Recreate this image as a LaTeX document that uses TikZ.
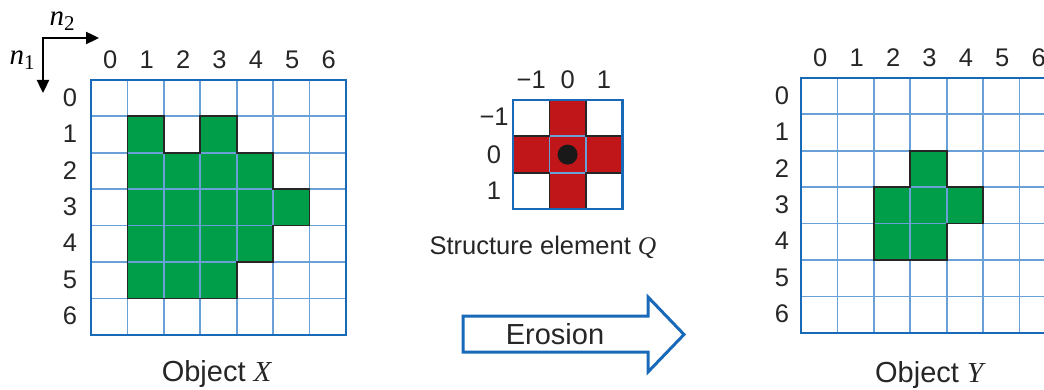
\documentclass[tikz,border=0pt]{standalone}
\usepackage{fontspec}
\setmainfont{Liberation Sans}
\newfontfamily\seriffont{Liberation Serif}
\usetikzlibrary{arrows.meta}
\definecolor{gridblue}{RGB}{105,160,215}
\definecolor{borderblue}{RGB}{25,105,185}
\definecolor{objgreen}{RGB}{0,158,73}
\definecolor{sered}{RGB}{192,22,26}
\tikzset{
  num/.style={font=\fontsize{25.5}{30}\selectfont, inner sep=0pt, text=black!85},
  captext/.style={font=\fontsize{29}{34}\selectfont, inner sep=0pt, text=black!85},
  inner grid/.style={draw=gridblue, line width=1.8pt},
  outer grid/.style={draw=borderblue, line width=2.6pt},
  outline/.style={draw=black!85, line width=1.8pt, line join=miter},
  axis/.style={line width=2.4pt, -{Triangle[length=13pt,width=12pt]}},
  bigarrow/.style={draw=borderblue, line width=3pt, line join=miter},
}
\newcommand{\itX}[1]{{\seriffont\itshape #1}}
\begin{document}
\begin{tikzpicture}[x=1pt,y=-1pt]
\useasboundingbox (0,0) rectangle (1044,390);
\begin{scope}
\clip (0,0) rectangle (1044,390);

% ---------- axes ----------
\coordinate (o) at (43,38);
\coordinate (ax2) at (99,38);
\coordinate (ax1) at (43,93);
\draw[axis] (o) -- (ax2);
\draw[axis] (o) -- (ax1);
\draw[line width=2.4pt] (41.8,38) -- (o);
\node[font=\fontsize{29}{34}\selectfont, inner sep=0pt] (n2) at (62,21) {\itX{n}\raisebox{-0.35ex}{\fontsize{21}{24}\selectfont\seriffont 2}};
\node[font=\fontsize{29}{34}\selectfont, inner sep=0pt] (n1) at (22,60) {\itX{n}\raisebox{-0.35ex}{\fontsize{21}{24}\selectfont\seriffont 1}};

% ---------- object X ----------
\begin{scope}[shift={(91,80)}, x=36.4pt, y=-36.4pt]
  \fill[objgreen] (1,1)--(2,1)--(2,2)--(3,2)--(3,1)--(4,1)--(4,2)--(5,2)--(5,3)--(6,3)--(6,4)--(5,4)--(5,5)--(4,5)--(4,6)--(1,6)--cycle;
  \foreach \i in {1,...,6} {
    \draw[inner grid] (\i,0) -- (\i,7);
    \draw[inner grid] (0,\i) -- (7,\i);
  }
  \draw[outline] (1,1)--(2,1)--(2,2)--(3,2)--(3,1)--(4,1)--(4,2)--(5,2)--(5,3)--(6,3)--(6,4)--(5,4)--(5,5)--(4,5)--(4,6)--(1,6)--cycle;
  \draw[outer grid] (0,0) rectangle (7,7);
  \foreach \i in {0,...,6} {
    \node[num] (xc\i) at (\i+0.53,-0.55) {\i};
    \node[num] (xr\i) at (-0.58,\i+0.48) {\i};
  }
  \node[captext] (objX) at (3.45,8.08) {Object \itX{X}};
\end{scope}

% ---------- structure element ----------
\begin{scope}[shift={(513,100)}, x=36.4pt, y=-36.4pt]
  \fill[sered] (1,0)--(2,0)--(2,1)--(3,1)--(3,2)--(2,2)--(2,3)--(1,3)--(1,2)--(0,2)--(0,1)--(1,1)--cycle;
  \draw[inner grid] (1,0) -- (1,3);
  \draw[inner grid] (2,0) -- (2,3);
  \draw[inner grid] (0,1) -- (3,1);
  \draw[inner grid] (0,2) -- (3,2);
  \draw[outline] (1,0)--(2,0)--(2,1)--(3,1)--(3,2)--(2,2)--(2,3)--(1,3)--(1,2)--(0,2)--(0,1)--(1,1)--cycle;
  \draw[outer grid] (0,0) rectangle (3,3);
  \fill[black!90] (1.5,1.5) circle[radius=10pt];
  \node[num] (sc0) at (0.5,-0.55) {−1};
  \node[num] (sc1) at (1.5,-0.55) {0};
  \node[num] (sc2) at (2.5,-0.55) {1};
  \node[num] (sr0) at (-0.52,0.45) {−1};
  \node[num] (sr1) at (-0.52,1.5) {0};
  \node[num] (sr2) at (-0.52,2.5) {1};
\end{scope}
\node[font=\fontsize{25.5}{30}\selectfont, inner sep=0pt, text=black!85] (selabel) at (543,247) {Structure element \itX{Q}};

% ---------- erosion arrow ----------
\draw[bigarrow] (463,316) -- (648,316) -- (648,297) -- (684,334.5) -- (648,372) -- (648,352) -- (463,352) -- cycle;
\node[captext] (erosion) at (555,334) {Erosion};

% ---------- object Y ----------
\begin{scope}[shift={(801,78)}, x=36.4pt, y=-36.4pt]
  \fill[objgreen] (3,2)--(4,2)--(4,3)--(5,3)--(5,4)--(4,4)--(4,5)--(2,5)--(2,3)--(3,3)--cycle;
  \foreach \i in {1,...,6} {
    \draw[inner grid] (\i,0) -- (\i,7);
    \draw[inner grid] (0,\i) -- (7,\i);
  }
  \draw[outline] (3,2)--(4,2)--(4,3)--(5,3)--(5,4)--(4,4)--(4,5)--(2,5)--(2,3)--(3,3)--cycle;
  \draw[outer grid] (0,0) rectangle (7,7);
  \foreach \i in {0,...,6} {
    \node[num] (yc\i) at (\i+0.53,-0.55) {\i};
    \node[num] (yr\i) at (-0.52,\i+0.48) {\i};
  }
  \node[captext] (objY) at (3.52,8.15) {Object \itX{Y}};
\end{scope}
\end{scope}
\end{tikzpicture}
\end{document}
